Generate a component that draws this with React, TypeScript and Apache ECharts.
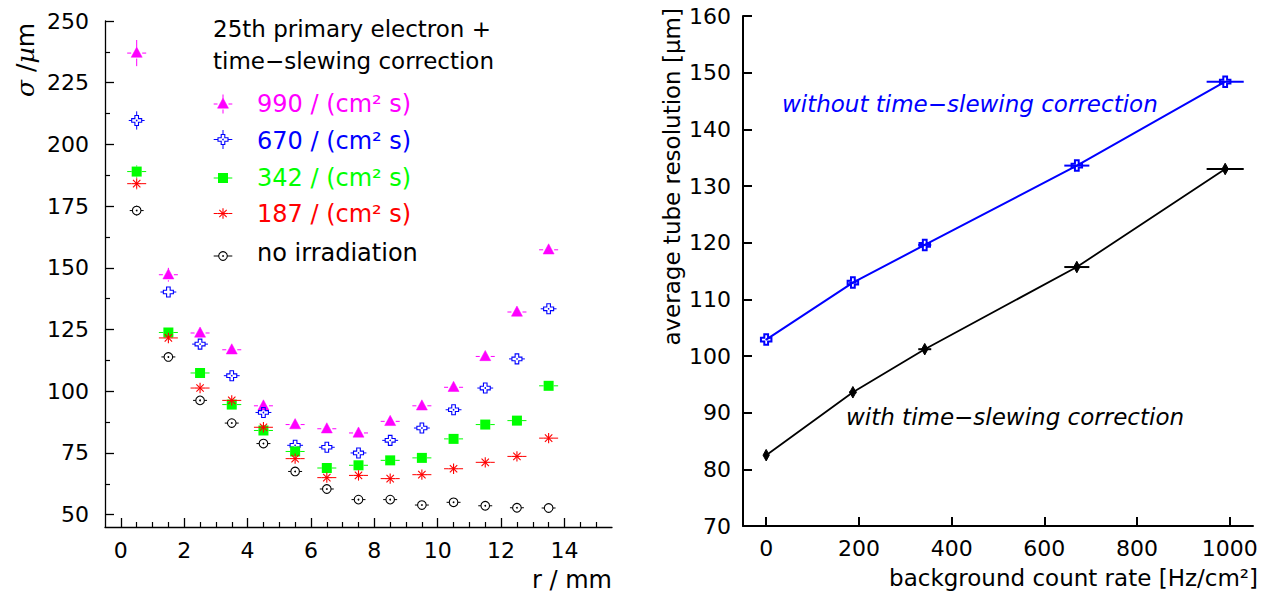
import React, { useEffect, useRef } from "react";
import * as echarts from "echarts";

// ---------- Left panel data: sigma vs drift radius ----------
const radii = [0.5, 1.5, 2.5, 3.5, 4.5, 5.5, 6.5, 7.5, 8.5, 9.5, 10.5, 11.5, 12.5, 13.5];
const sigma990 = [237.0, 147.2, 123.6, 116.8, 94.1, 86.5, 84.8, 83.1, 87.8, 94.1, 101.6, 114.1, 132.1, 157.3];
const sigma990Err = [5.3, 2.8, 1.5, 1.3, 1.1, 1.0, 1.0, 1.0, 1.0, 1.1, 1.2, 1.3, 1.5, 1.8];
const sigma670 = [209.7, 140.2, 119.1, 106.3, 91.4, 78.1, 77.3, 75.0, 80.1, 85.1, 92.5, 101.3, 113.1, 133.4];
const sigma670Err = [3.7, 1.8, 1.2, 1.1, 1.0, 0.9, 0.9, 0.9, 0.9, 1.0, 1.0, 1.1, 1.3, 1.5];
const sigma342 = [189.0, 123.8, 107.4, 94.6, 84.1, 75.6, 68.9, 70.0, 72.0, 73.0, 80.7, 86.5, 88.1, 102.2];
const sigma342Err = [2.5, 1.4, 1.1, 1.0, 0.9, 0.8, 0.8, 0.8, 0.8, 0.8, 0.9, 1.0, 1.0, 1.2];
const sigma187 = [184.1, 121.6, 101.3, 96.3, 85.4, 72.7, 65.0, 65.9, 64.6, 66.2, 68.6, 71.2, 73.6, 81.0];
const sigma187Err = [2.3, 1.3, 1.0, 1.0, 0.9, 0.8, 0.7, 0.7, 0.7, 0.7, 0.8, 0.8, 0.9, 1.0];
const sigmaNone = [173.2, 113.9, 96.3, 87.1, 78.8, 67.5, 60.4, 56.1, 56.1, 53.9, 55.0, 53.6, 52.8, 52.7];
const sigmaNoneErr = [2.0, 1.2, 1.0, 0.9, 0.8, 0.7, 0.6, 0.6, 0.6, 0.6, 0.6, 0.6, 0.6, 0.6];
const radiusErr = [0.3, 0.25, 0.3, 0.3, 0.22];
const leftLegend = ["990 / (cm² s)", "670 / (cm² s)", "342 / (cm² s)", "187 / (cm² s)", "no irradiation"];
const leftHeader = ["25th primary electron +", "time−slewing correction"];

const radiusTicks = [0, 2, 4, 6, 8, 10, 12, 14];
const radiusMinorTicks = [0.5, 1, 1.5, 2.5, 3, 3.5, 4.5, 5, 5.5, 6.5, 7, 7.5, 8.5, 9, 9.5, 10.5, 11, 11.5, 12.5, 13, 13.5, 14.5, 15];
const sigmaTicks = [50, 75, 100, 125, 150, 175, 200, 225, 250];
const sigmaMinorTicks = [62.5, 87.5, 112.5, 137.5, 162.5, 187.5, 212.5, 237.5];

// ---------- Right panel data: average resolution vs rate ----------
const rates = [0, 187, 342, 670, 990];
const rateErr = [0, 8, 14, 27, 40];
const resWithout = [102.9, 112.95, 119.6, 133.6, 148.4];
const resWith = [82.5, 93.6, 101.2, 115.7, 133.0];
const rateTicks = [0, 200, 400, 600, 800, 1000];
const resTicks = [70, 80, 90, 100, 110, 120, 130, 140, 150, 160];
const rightLabels = ["without time−slewing correction", "with time−slewing correction"];

const FONT = "DejaVu Sans";
const MAGENTA = "#ff00ff";
const BLUE = "#0000ff";
const GREEN = "#00ff00";
const RED = "#ff0000";
const BLACK = "#000000";

function markerEls(kind: string, cx: number, cy: number, color: string, s: number, lw: number): any[] {
  switch (kind) {
    case "triangle":
      return [{
        type: "polygon",
        shape: { points: [[cx, cy - 6 * s], [cx + 5.5 * s, cy + 4.2 * s], [cx - 5.5 * s, cy + 4.2 * s]] },
        style: { fill: color, stroke: color, lineWidth: 0.5 },
      }];
    case "cross": {
      const a = 1.8 * s, L = 5 * s;
      const pts = [[-a, -L], [a, -L], [a, -a], [L, -a], [L, a], [a, a], [a, L], [-a, L], [-a, a], [-L, a], [-L, -a], [-a, -a]]
        .map(([x, y]) => [cx + x, cy + y]);
      return [
        { type: "polygon", shape: { points: pts }, style: { fill: "none", stroke: color, lineWidth: lw } },
        { type: "circle", shape: { cx, cy, r: 0.8 }, style: { fill: color } },
      ];
    }
    case "square":
      return [{ type: "rect", shape: { x: cx - 5 * s, y: cy - 5 * s, width: 10 * s, height: 10 * s }, style: { fill: color } }];
    case "star": {
      const r = 5.2 * s, d = 3.7 * s;
      const seg = (x1: number, y1: number, x2: number, y2: number) => ({
        type: "line", shape: { x1: cx + x1, y1: cy + y1, x2: cx + x2, y2: cy + y2 }, style: { stroke: color, lineWidth: lw },
      });
      return [seg(-r, 0, r, 0), seg(0, -r, 0, r), seg(-d, -d, d, d), seg(-d, d, d, -d)];
    }
    case "circle":
      return [
        { type: "circle", shape: { cx, cy, r: 4.3 * s }, style: { fill: "none", stroke: color, lineWidth: lw } },
        { type: "circle", shape: { cx, cy, r: 0.9 }, style: { fill: color } },
      ];
    case "diamond":
      return [{
        type: "polygon",
        shape: { points: [[cx, cy - 5.5 * s], [cx + 3 * s, cy], [cx, cy + 5.5 * s], [cx - 3 * s, cy]] },
        style: { fill: color, stroke: color, lineWidth: 1 },
      }];
  }
  return [];
}

const markerGap: Record<string, number> = { triangle: 5.5, cross: 5, square: 5, star: 5.2, circle: 4.3, diamond: 0 };

function hLine(x1: number, x2: number, y: number, color: string, lw: number) {
  return { type: "line", shape: { x1, y1: y, x2, y2: y }, style: { stroke: color, lineWidth: lw } };
}
function vLine(x: number, y1: number, y2: number, color: string, lw: number) {
  return { type: "line", shape: { x1: x, y1, x2: x, y2 }, style: { stroke: color, lineWidth: lw } };
}

// Left panel: points with x error (constant per series) and y error (per point)
function leftSeries(name: string, ys: number[], yErr: number[], xErr: number, kind: string, color: string) {
  return {
    type: "custom",
    name,
    xAxisIndex: 0,
    yAxisIndex: 0,
    data: radii.map((x, i) => [x, ys[i], yErr[i]]),
    encode: { x: 0, y: 1 },
    renderItem: (_p: any, api: any) => {
      const x = api.value(0), y = api.value(1), e = api.value(2);
      const c = api.coord([x, y]);
      const xl = api.coord([x - xErr, y])[0];
      const xr = api.coord([x + xErr, y])[0];
      const yt = api.coord([x, y + e])[1];
      const yb = api.coord([x, y - e])[1];
      const g = markerGap[kind];
      const ch: any[] = [];
      if (c[0] - xl > g) { ch.push(hLine(xl, c[0] - g, c[1], color, 1)); ch.push(hLine(c[0] + g, xr, c[1], color, 1)); }
      if (c[1] - yt > g) { ch.push(vLine(c[0], yt, c[1] - g, color, 1)); ch.push(vLine(c[0], c[1] + g, yb, color, 1)); }
      ch.push(...markerEls(kind, c[0], c[1], color, 1, 1.1));
      return { type: "group", children: ch };
    },
  };
}

// Right panel markers with horizontal error bars
function rightMarkers(name: string, ys: number[], kind: string, color: string, lw: number) {
  return {
    type: "custom",
    name,
    xAxisIndex: 2,
    yAxisIndex: 2,
    z: 5,
    data: rates.map((x, i) => [x, ys[i], rateErr[i]]),
    encode: { x: 0, y: 1 },
    renderItem: (_p: any, api: any) => {
      const x = api.value(0), y = api.value(1), e = api.value(2);
      const c = api.coord([x, y]);
      const xl = api.coord([x - e, y])[0];
      const xr = api.coord([x + e, y])[0];
      const ch: any[] = [];
      if (xr - xl > 2) ch.push(hLine(xl, xr, c[1], color, 2));
      ch.push(...markerEls(kind, c[0], c[1], color, 1.05, lw));
      return { type: "group", children: ch };
    },
  };
}

const legendKinds = [
  { kind: "triangle", color: MAGENTA, y: 104, v: 9.5 },
  { kind: "cross", color: BLUE, y: 139.5, v: 9.5 },
  { kind: "square", color: GREEN, y: 178, v: 0 },
  { kind: "star", color: RED, y: 213.5, v: 0 },
  { kind: "circle", color: BLACK, y: 256, v: 0 },
];
const legendTextY = [103.7, 141, 177.7, 214.3, 252.7];

function legendGraphic() {
  const els: any[] = [];
  legendKinds.forEach((k, i) => {
    const cx = 223;
    const g = markerGap[k.kind];
    const ch: any[] = [hLine(cx - 9.3, cx - g, k.y, k.color, 1), hLine(cx + g, cx + 9.3, k.y, k.color, 1)];
    if (k.v > 0) { ch.push(vLine(cx, k.y - k.v, k.y - g, k.color, 1)); ch.push(vLine(cx, k.y + g, k.y + k.v, k.color, 1)); }
    ch.push(...markerEls(k.kind, cx, k.y, k.color, 1, 1.1));
    els.push({ type: "group", children: ch });
    els.push({
      type: "text", x: 257, y: legendTextY[i],
      style: {
        text: leftLegend[i], fill: k.color, fontFamily: FONT, fontSize: 24,
        align: "left", verticalAlign: "middle", textAlign: "left", textVerticalAlign: "middle",
      },
    });
  });
  leftHeader.forEach((t, i) => {
    els.push({
      type: "text", x: 213, y: i === 0 ? 29.3 : 61.3,
      style: {
        text: t, fill: BLACK, fontFamily: FONT, fontSize: 23,
        align: "left", verticalAlign: "middle", textAlign: "left", textVerticalAlign: "middle",
      },
    });
  });
  return els;
}

function buildOption(): any {
  const tickLabel = { fontFamily: FONT, fontSize: 22, color: BLACK };
  const majorX = (gridIndex: number, min: number, max: number, ticks: number[], lw: number, margin: number) => ({
    gridIndex, type: "value", min, max, position: "bottom",
    axisLine: { show: true, onZero: false, lineStyle: { color: BLACK, width: lw } },
    axisTick: { show: true, inside: true, length: 9, customValues: ticks, lineStyle: { color: BLACK, width: lw } },
    axisLabel: { ...tickLabel, customValues: ticks, margin, formatter: (v: number) => String(v) },
    splitLine: { show: false },
  });
  const majorY = (gridIndex: number, min: number, max: number, ticks: number[], lw: number, margin: number) => ({
    gridIndex, type: "value", min, max, position: "left",
    axisLine: { show: true, onZero: false, lineStyle: { color: BLACK, width: lw } },
    axisTick: { show: true, inside: true, length: 9, customValues: ticks, lineStyle: { color: BLACK, width: lw } },
    axisLabel: { ...tickLabel, customValues: ticks, margin, formatter: (v: number) => String(v) },
    splitLine: { show: false },
  });
  const minor = (gridIndex: number, min: number, max: number, ticks: number[], position: string) => ({
    gridIndex, type: "value", min, max, position,
    axisLine: { show: false, onZero: false },
    axisTick: { show: true, inside: true, length: 5, customValues: ticks, lineStyle: { color: BLACK, width: 1.2 } },
    axisLabel: { show: false },
    splitLine: { show: false },
  });

  return {
    animation: false,
    backgroundColor: "#ffffff",
    grid: [
      { left: 105, top: 21, width: 507, height: 506, containLabel: false, outerBoundsMode: "none" },
      { left: 743, top: 16, width: 510, height: 510, containLabel: false, outerBoundsMode: "none" },
    ],
    xAxis: [
      majorX(0, -0.5, 15.5, radiusTicks, 1.3, 12),
      minor(0, -0.5, 15.5, radiusMinorTicks, "bottom"),
      majorX(1, -50, 1050, rateTicks, 2, 11),
    ],
    yAxis: [
      majorY(0, 45, 250, sigmaTicks, 1.3, 16),
      minor(0, 45, 250, sigmaMinorTicks, "left"),
      majorY(1, 70, 160, resTicks, 2, 12),
    ],
    series: [
      leftSeries(leftLegend[0], sigma990, sigma990Err, radiusErr[0], "triangle", MAGENTA),
      leftSeries(leftLegend[1], sigma670, sigma670Err, radiusErr[1], "cross", BLUE),
      leftSeries(leftLegend[2], sigma342, sigma342Err, radiusErr[2], "square", GREEN),
      leftSeries(leftLegend[3], sigma187, sigma187Err, radiusErr[3], "star", RED),
      leftSeries(leftLegend[4], sigmaNone, sigmaNoneErr, radiusErr[4], "circle", BLACK),
      {
        type: "line", name: rightLabels[0], xAxisIndex: 2, yAxisIndex: 2,
        data: rates.map((x, i) => [x, resWithout[i]]), symbol: "none", showSymbol: false,
        lineStyle: { color: BLUE, width: 2 }, z: 3,
      },
      {
        type: "line", name: rightLabels[1], xAxisIndex: 2, yAxisIndex: 2,
        data: rates.map((x, i) => [x, resWith[i]]), symbol: "none", showSymbol: false,
        lineStyle: { color: BLACK, width: 1.8 }, z: 3,
      },
      rightMarkers(rightLabels[0] + " points", resWithout, "cross", BLUE, 2),
      rightMarkers(rightLabels[1] + " points", resWith, "diamond", BLACK, 1),
    ],
    graphic: [
      ...legendGraphic(),
      {
        type: "text", x: 25, y: 60, rotation: Math.PI / 2,
        style: {
          text: "{it|σ} /{it|µ}m", fill: BLACK, fontFamily: FONT, fontSize: 25,
          align: "center", verticalAlign: "middle", textAlign: "center", textVerticalAlign: "middle",
          rich: { it: { fontFamily: "DejaVu Serif", fontStyle: "italic", fontSize: 25, fill: BLACK } },
        },
      },
      {
        type: "text", x: 612, y: 580,
        style: {
          text: "r / mm", fill: BLACK, fontFamily: FONT, fontSize: 24,
          align: "right", verticalAlign: "middle", textAlign: "right", textVerticalAlign: "middle",
        },
      },
      {
        type: "text", x: 672, y: 8, rotation: Math.PI / 2,
        style: {
          text: "average tube resolution [µm]", fill: BLACK, fontFamily: FONT, fontSize: 23,
          align: "right", verticalAlign: "middle", textAlign: "right", textVerticalAlign: "middle",
        },
      },
      {
        type: "text", x: 1258, y: 578,
        style: {
          text: "background count rate [Hz/cm²]", fill: BLACK, fontFamily: FONT, fontSize: 23,
          align: "right", verticalAlign: "middle", textAlign: "right", textVerticalAlign: "middle",
        },
      },
      {
        type: "text", x: 782, y: 103.7,
        style: {
          text: rightLabels[0], fill: BLUE, fontFamily: FONT, fontStyle: "italic", fontSize: 23,
          align: "left", verticalAlign: "middle", textAlign: "left", textVerticalAlign: "middle",
        },
      },
      {
        type: "text", x: 846, y: 417,
        style: {
          text: rightLabels[1], fill: BLACK, fontFamily: FONT, fontStyle: "italic", fontSize: 23,
          align: "left", verticalAlign: "middle", textAlign: "left", textVerticalAlign: "middle",
        },
      },
    ],
  };
}

export default function App() {
  const ref = useRef<HTMLDivElement>(null);
  useEffect(() => {
    if (!ref.current) return;
    const chart = echarts.init(ref.current, null, { renderer: "svg" });
    chart.setOption(buildOption());
    return () => chart.dispose();
  }, []);
  return (
    <div
      ref={ref}
      style={{ position: "fixed", left: 0, top: 0, width: 1278, height: 599, background: "#ffffff" }}
    />
  );
}
